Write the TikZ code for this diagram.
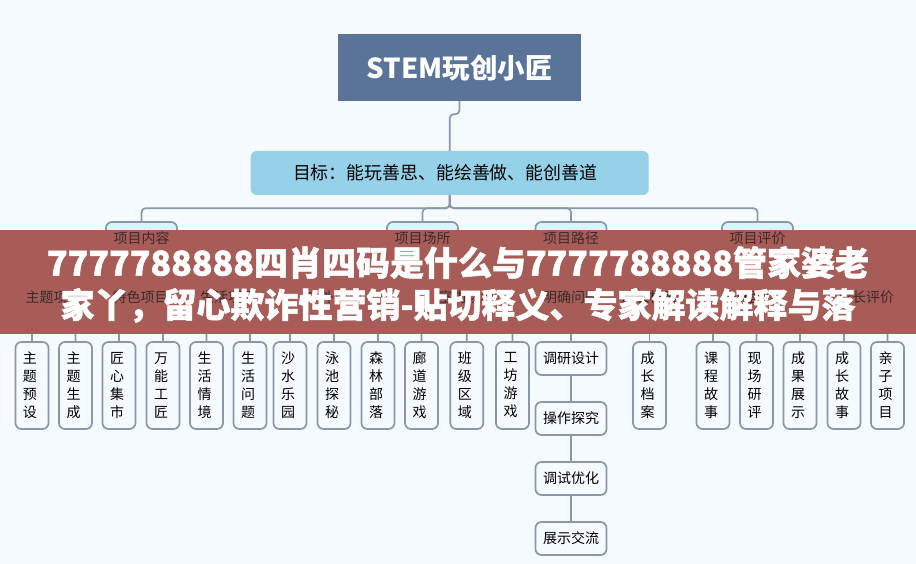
\documentclass[tikz,border=0pt]{standalone}
\usepackage{fontspec}
\setmainfont{Noto Sans CJK SC}
\newfontfamily\stripefont[BoldFeatures={FakeBold=1.4}]{Noto Sans CJK SC}
\definecolor{pagebg}{HTML}{F5FAFF}
\definecolor{rootblue}{HTML}{5A7399}
\definecolor{goalblue}{HTML}{95D2E9}
\definecolor{itemblue}{HTML}{DFF1FB}
\definecolor{linegray}{HTML}{8B97A8}
\definecolor{stripe}{HTML}{A85C58}
\definecolor{ghostink}{HTML}{3A2A2A}
\begin{document}
\begin{tikzpicture}[x=1pt, y=-1pt]
	\tikzstyle{root} = [ fill=rootblue, text=white, minimum width=243pt, minimum height=67pt, font={\fontsize{27.5}{30}\selectfont\bfseries} ];
	\tikzstyle{goal} = [ fill=goalblue, rounded corners=6pt, minimum width=398pt, minimum height=44pt, font={\fontsize{17.9}{20}\selectfont} ];
	\tikzstyle{item} = [ draw=linegray, line width=1.7pt, fill=itemblue, rounded corners=6pt, minimum width=71pt, minimum height=32pt ];
	\tikzstyle{group} = [ draw=linegray, line width=1.7pt, fill=pagebg, rounded corners=6pt, minimum width=70pt, minimum height=32pt ];
	\tikzstyle{leaf} = [ draw=linegray, line width=1.7pt, fill=pagebg, rounded corners=6pt, minimum width=33pt, minimum height=87pt, text width=18pt, align=left, inner xsep=0pt, font={\fontsize{14}{18}\selectfont} ];
	\tikzstyle{stepbox} = [ draw=linegray, line width=1.7pt, fill=pagebg, rounded corners=6pt, minimum width=71pt, minimum height=33pt, font={\fontsize{14}{18}\selectfont} ];
	\tikzstyle{link} = [ draw=linegray, line width=1.7pt, rounded corners=4pt ];
	\tikzstyle{ghost} = [ text=ghostink, font={\fontsize{14}{18}\selectfont} ];
	\tikzstyle{stripetext} = [ text=white, inner sep=0pt, font={\stripefont\fontsize{34}{40}\selectfont\bfseries} ];

	\useasboundingbox (0,0) rectangle (916,564);
	\fill[pagebg] (0,0) rectangle (916,564);

	\node[root] (stem) at (459.5,67.5) {STEM玩创小匠};
	\node[goal] (aim) at (449.7,173) {目标：能玩善思、能绘善做、能创善道\hspace*{9pt}};
	\draw[link] (stem.south) -- ++(0,13) -| (aim.north);

	% second row
	\foreach \x/\n in {141.5/neirong,422.5/changsuo,571/lujing,757.5/pingjia} {
		\node[item] (\n) at (\x,238) {};
		\draw[link] (aim.south) -- ++(0,13) -| (\n.north);
	}

	% third row
	\foreach \x/\n/\p in {53.5/zhuti/neirong,140.5/tese/neirong,228/shenghuo/neirong,334/huwai/changsuo,466.5/shinei/changsuo,571/wenti/lujing,649.5/dangan/lujing,756/guocheng/pingjia,866/chengzhang/pingjia} {
		\node[group] (\n) at (\x,297) {};
		\draw[link] (\p.south) -- ++(0,13) -| (\n.north);
	}

	% bottom row
	\foreach \x/\t/\p [count=\xi] in {
		32/主\\题\\预\\设/zhuti, 75.5/主\\题\\生\\成/zhuti,
		119/匠\\心\\集\\市/tese, 163/万\\能\\工\\匠/tese,
		206.5/生\\活\\情\\境/shenghuo, 250/生\\活\\问\\题/shenghuo,
		290/沙\\水\\乐\\园/huwai, 334/泳\\池\\探\\秘/huwai, 378/森\\林\\部\\落/huwai,
		421.5/廊\\道\\游\\戏/shinei, 466.8/班\\级\\区\\域/shinei, 512.5/工\\坊\\游\\戏/shinei,
		649.5/成\\长\\档\\案/dangan,
		713/课\\程\\故\\事/guocheng, 756.5/现\\场\\研\\评/guocheng, 800/成\\果\\展\\示/guocheng,
		844/成\\长\\故\\事/chengzhang, 887.5/亲\\子\\项\\目/chengzhang} {
		\node[leaf] (\xi) at (\x,385.5) {\t};
		\draw[link] (\p.south) -- ++(0,12) -| (\xi.north);
	}

	\node[stepbox] (survey) at (571,358.5) {调研设计};
	\node[stepbox] (operate) at (571,418.5) {操作探究};
	\node[stepbox] (debug) at (571,478.5) {调试优化};
	\node[stepbox] (show) at (571,538.5) {展示交流};
	\draw[link] (wenti.south) -- (survey.north);
	\draw[link] (survey) -- (operate);
	\draw[link] (operate) -- (debug);
	\draw[link] (debug) -- (show);

	% the stripe lies over the rows
	\fill[stripe] (0,230) rectangle (916,333.5);

	\foreach \n/\t in {neirong/项目内容,changsuo/项目场所,lujing/项目路径,pingjia/项目评价,zhuti/主题项目,tese/特色项目,shenghuo/生活项目,huwai/户外场地,shinei/室内场地,wenti/明确问题,dangan/成长档案,guocheng/过程评价,chengzhang/成长评价} {
		\node[ghost] (\n-label) at (\n) {\t};
	}

	\node[stripetext] (line1) at (458,262.5) {7777788888四肖四码是什么与7777788888管家婆老};
	\node[stripetext] (line2) at (458,305.5) {家丫，留心欺诈性营销-贴切释义、专家解读解释与落};
\end{tikzpicture}
\end{document}
